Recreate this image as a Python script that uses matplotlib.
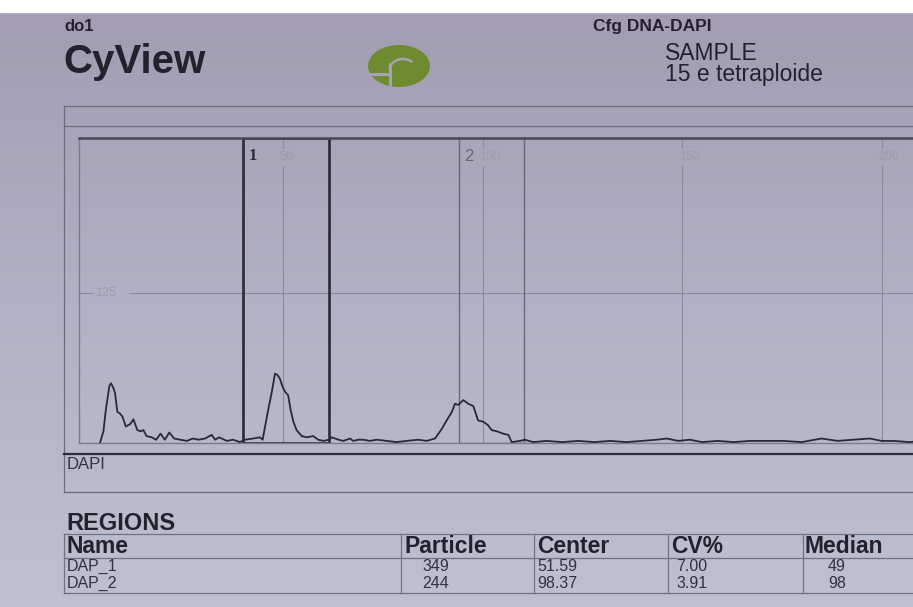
import numpy as np
import matplotlib.pyplot as plt
from matplotlib.patches import Rectangle, Ellipse, Arc
from matplotlib.colors import LinearSegmentedColormap

plt.rcParams['font.family'] = ['Liberation Sans', 'DejaVu Sans']

# histogram trace (channel, count)
channel = [4.1, 5.0, 5.6, 6.5, 6.9, 7.5, 7.9, 8.5, 9.1, 9.8, 10.6, 11.7, 12.5, 13.5,
           14.3, 15.0, 15.8, 17.1, 18.2, 19.3, 20.4, 21.5, 22.7, 24.2, 25.9, 27.4,
           28.8, 30.5, 32.1, 33.0, 34.0, 35.9, 37.5, 39.2, 40.5, 42.6, 44.2, 44.9,
           45.5, 46.3, 47.2, 48.0, 48.6, 49.2, 49.9, 50.5, 51.3, 51.9, 52.6, 53.4,
           54.7, 55.9, 57.6, 58.8, 60.1, 61.6, 62.2, 63.9, 65.1, 66.0, 66.8, 67.6,
           68.9, 70.1, 71.8, 73.5, 76.0, 78.5, 81.0, 83.9, 86.0, 88.1, 89.8, 91.0,
           92.3, 93.1, 93.9, 95.2, 96.4, 97.7, 98.9, 100.2, 101.4, 102.3, 103.6,
           105.2, 106.5, 107.3, 109.4, 110.6, 112.7, 116, 120, 124, 128, 132, 136,
           140, 143.7, 146.2, 149, 152, 155, 159, 163, 167, 171, 175.4, 180, 185,
           189, 193, 197.1, 200, 203, 207, 210]
counts = [0, 10, 28, 48, 50, 46, 42, 26, 25, 22, 14, 16, 20, 11,
          10, 11, 6, 5, 3, 8, 3, 9, 4, 3, 2, 4,
          3, 4, 7, 3, 5, 2, 3, 1, 3, 4, 5, 3,
          14, 28, 43, 58, 57, 54, 47, 43, 40, 28, 18, 11,
          6, 5, 6, 3, 2, 3, 5, 3, 2, 3, 4, 2,
          3, 3, 2, 3, 2, 1, 2, 3, 2, 4, 12, 19,
          26, 33, 32, 36, 33, 31, 19, 18, 15, 11, 10,
          8, 7, 1, 2, 3, 1, 2, 1, 2, 1, 2, 1,
          2, 3, 4, 2, 3, 1, 2, 1, 2, 2, 2, 1, 4,
          2, 3, 4, 2, 2, 1, 2]

grid_x = [50, 100, 150, 200]
grid_y = [125]

region_labels = ['1', '2']
region_lo = [40.1, 94.1]
region_hi = [61.5, 110.5]

table_header = ['Name', 'Particle', 'Center', 'CV%', 'Median']
region_names = ['DAP_1', 'DAP_2']
particle = [349, 244]
center = [51.59, 98.37]
cv = [7.00, 3.91]
median = [49, 98]

W, H = 913, 607
dark = '#24212d'
fig = plt.figure(figsize=(W / 100, H / 100), dpi=100)

# page background in pixel coords
bg = fig.add_axes([0, 0, 1, 1])
paper = LinearSegmentedColormap.from_list('paper', ['#a39cb2', '#b1b2c5', '#bcc0d0'])
bg.imshow(np.linspace(0, 1, 64).reshape(-1, 1), cmap=paper, extent=[0, W, H, 12],
          aspect='auto', zorder=0)
bg.add_patch(Rectangle((0, 0), W, 12, color='white', zorder=1))
bg.set_xlim(0, W)
bg.set_ylim(H, 0)
bg.axis('off')

# frame around the histogram
thin = dict(color='#6e6c7c', lw=0.9, zorder=2)
bg.plot([64, W], [106, 106], **thin)
bg.plot([64, W], [126, 126], **thin)
bg.plot([64, 64], [106, 492], **thin)
bg.plot([64, W], [492, 492], **thin)
bg.plot([64, W], [454, 454], color='#2c2a36', lw=1.6, zorder=2)

# header
bg.text(64, 31, 'do1', fontsize=12, fontweight='bold', color=dark, va='baseline')
bg.text(63, 73, 'CyView', fontsize=29, fontweight='bold', color=dark, va='baseline')
bg.text(593, 31, 'Cfg DNA-DAPI', fontsize=12.5, fontweight='bold', color=dark, va='baseline')
bg.text(665, 60, 'SAMPLE', fontsize=16.5, color=dark, va='baseline')
bg.text(665, 81, '15 e tetraploide', fontsize=16.5, color=dark, va='baseline')

# logo
cut = '#a7a1b6'
bg.add_patch(Ellipse((399, 66), 62, 42, fc='#6f8b30', ec='none', zorder=3))
bg.plot([390, 390], [63, 88], color=cut, lw=2.2, zorder=4, solid_capstyle='butt')
bg.plot([367, 390], [74, 74], color=cut, lw=2.2, zorder=4, solid_capstyle='butt')
bg.add_patch(Arc((403, 70), 27, 22, theta1=185, theta2=320, ec=cut, lw=1.8, zorder=4))

bg.text(67, 469, 'DAPI', fontsize=12, color='#34323e', va='baseline')

# histogram axes
px0, ppu, base, ppc = 83.5, 3.99, 443.3, 1.2
x_lo, x_hi = -1.13, 210
y_hi = (base - 138) / ppc
left = px0 + x_lo * ppu
right = px0 + x_hi * ppu
ax = fig.add_axes([left / W, (H - base) / H, (right - left) / W, (base - 138) / H])
ax.set_facecolor('none')
ax.set_xlim(x_lo, x_hi)
ax.set_ylim(0, y_hi)
ax.set_xticks([])
ax.set_yticks([])
ax.spines['top'].set_linewidth(1.8)
ax.spines['top'].set_color('#4a4856')
for s in ['left', 'bottom']:
    ax.spines[s].set_linewidth(1.0)
    ax.spines[s].set_color('#7c7a8a')
ax.spines['right'].set_visible(False)

grid_kw = dict(color='#8c8b9b', lw=0.8, zorder=1)
tick_kw = dict(fontsize=9, color='#9d9cac', va='center', ha='left')
for gx in grid_x:
    ax.vlines(gx, 0, 232, **grid_kw)
    ax.vlines(gx, 246, y_hi, **grid_kw)
    ax.text(gx - 0.8, 239, str(gx), **tick_kw)
for gy in grid_y:
    ax.hlines(gy, x_lo, 2.5, **grid_kw)
    ax.hlines(gy, 11.5, x_hi, **grid_kw)
    ax.text(3, gy, str(gy), **tick_kw)

region_lw = [1.9, 1.0]
region_ec = ['#2a2834', '#6a6878']
region_fw = ['bold', 'normal']
region_font = ['Liberation Serif', 'Liberation Sans']
for i, lab in enumerate(region_labels):
    ax.add_patch(Rectangle((region_lo[i], 0), region_hi[i] - region_lo[i], y_hi,
                           fill=False, lw=region_lw[i], ec=region_ec[i], zorder=2))
    ax.text(region_lo[i] + 1.3, 239, lab, fontsize=12, fontweight=region_fw[i],
            family=region_font[i], color=region_ec[i], va='center', ha='left')

ax.plot(channel, counts, color='#2a2834', lw=1.3, zorder=3)

# regions table
bg.text(66, 530, 'REGIONS', fontsize=17, fontweight='bold', color=dark, va='baseline')
tline = dict(color='#74727f', lw=0.9, zorder=2)
for ty in [534, 558, 593]:
    bg.plot([64, W], [ty, ty], **tline)
for tx in [64, 401, 534, 668, 803]:
    bg.plot([tx, tx], [534, 593], **tline)
header_x = [67, 404, 537, 671, 805]
for hx, h in zip(header_x, table_header):
    bg.text(hx, 553, h, fontsize=16.5, fontweight='bold', color=dark, va='baseline')
cell_x = [67, 422, 537, 676, 828]
row_y = [571, 588]
for r in range(len(region_names)):
    cells = [region_names[r], str(particle[r]), f'{center[r]:.2f}', f'{cv[r]:.2f}',
             str(median[r])]
    for cx, c in zip(cell_x, cells):
        bg.text(cx, row_y[r], c, fontsize=11.5, color='#33313d', va='baseline')

fig.savefig('out.png', dpi=100)
